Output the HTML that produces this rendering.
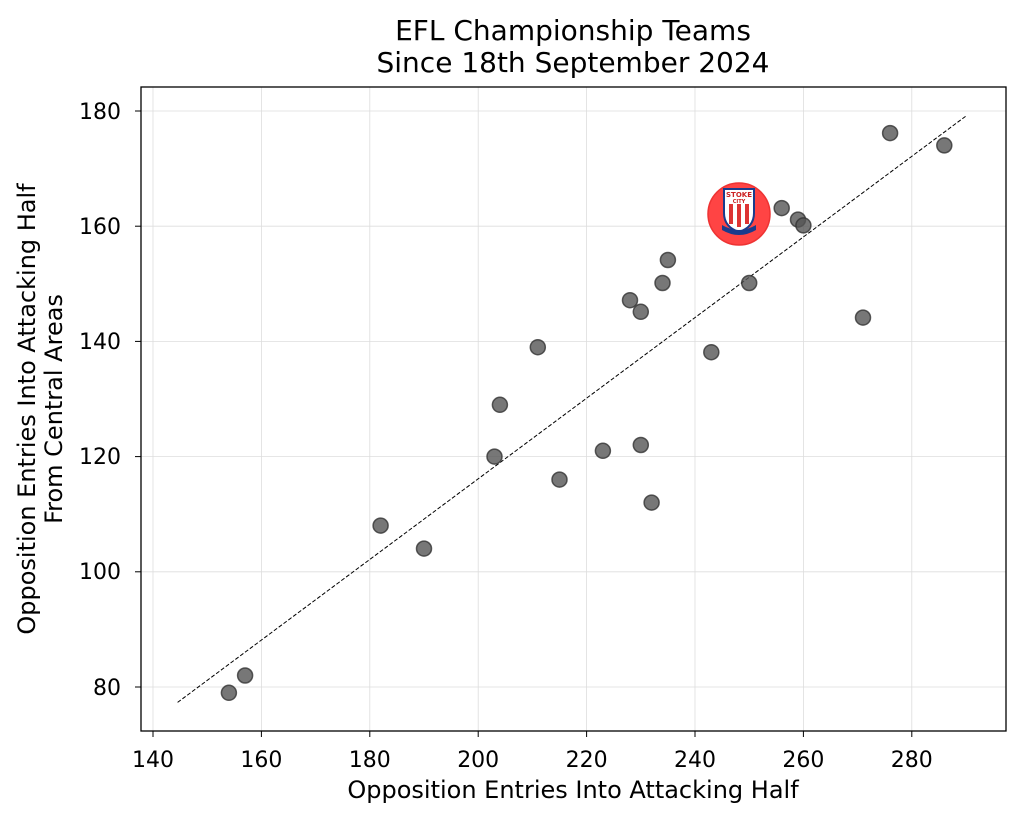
<!DOCTYPE html>
<html><head><meta charset="utf-8"><style>body{margin:0;background:#fff}svg{display:block}</style></head><body>
<svg width="1023" height="822" xmlns="http://www.w3.org/2000/svg" font-family="DejaVu Sans, Liberation Sans, sans-serif">
<rect width="1023" height="822" fill="#fff"/>
<g stroke="#ddd" stroke-width="0.8">
<line x1="153" y1="87" x2="153" y2="731"/><line x1="261.4" y1="87" x2="261.4" y2="731"/><line x1="369.8" y1="87" x2="369.8" y2="731"/><line x1="478.2" y1="87" x2="478.2" y2="731"/><line x1="586.6" y1="87" x2="586.6" y2="731"/><line x1="695" y1="87" x2="695" y2="731"/><line x1="803.4" y1="87" x2="803.4" y2="731"/><line x1="911.8" y1="87" x2="911.8" y2="731"/>
<line x1="141" y1="111" x2="1006" y2="111"/><line x1="141" y1="226.2" x2="1006" y2="226.2"/><line x1="141" y1="341.4" x2="1006" y2="341.4"/><line x1="141" y1="456.6" x2="1006" y2="456.6"/><line x1="141" y1="571.8" x2="1006" y2="571.8"/><line x1="141" y1="687" x2="1006" y2="687"/>
</g>
<line x1="177.6" y1="702.4" x2="966" y2="116" stroke="#000" stroke-width="1" stroke-dasharray="4,2"/>
<g fill="#555" fill-opacity="0.8" stroke="#333" stroke-opacity="0.8" stroke-width="1.5">
<circle cx="228.9" cy="692.8" r="7.5"/><circle cx="245.1" cy="675.5" r="7.5"/><circle cx="380.6" cy="525.6" r="7.5"/><circle cx="424" cy="548.6" r="7.5"/><circle cx="494.5" cy="456.6" r="7.5"/><circle cx="499.9" cy="404.8" r="7.5"/><circle cx="537.8" cy="347.2" r="7.5"/><circle cx="559.5" cy="479.6" r="7.5"/><circle cx="602.9" cy="450.8" r="7.5"/><circle cx="630" cy="300.2" r="7.5"/><circle cx="640.8" cy="311.8" r="7.5"/><circle cx="640.8" cy="445" r="7.5"/><circle cx="651.6" cy="502.6" r="7.5"/><circle cx="662.5" cy="283" r="7.5"/><circle cx="667.9" cy="260" r="7.5"/><circle cx="711.3" cy="352.2" r="7.5"/><circle cx="749.2" cy="283" r="7.5"/><circle cx="781.7" cy="208.1" r="7.5"/><circle cx="798" cy="219.6" r="7.5"/><circle cx="803.4" cy="225.4" r="7.5"/><circle cx="863" cy="317.6" r="7.5"/><circle cx="890.1" cy="133.1" r="7.5"/><circle cx="944.3" cy="145.4" r="7.5"/>
</g>
<circle cx="739" cy="214" r="31" fill="#f44" stroke="#e33" stroke-width="1.5"/>
<path d="M724 189 h30 v24 q0 14 -15 19 q-15 -5 -15 -19z" fill="#fff" stroke="#1a3b8c" stroke-width="2"/>
<g fill="#d33"><rect x="729" y="204" width="4" height="20"/><rect x="737" y="204" width="4" height="23"/><rect x="745" y="204" width="4" height="20"/></g>
<path d="M722 225 q17 10 34 0 l0 5 q-17 10 -34 0z" fill="#1a3b8c"/>
<text x="739" y="197" font-size="7" text-anchor="middle" fill="#c22" font-weight="bold">STOKE</text>
<text x="739" y="203" font-size="5" text-anchor="middle" fill="#c22" font-weight="bold">CITY</text>
<rect x="141" y="87" width="865" height="644" fill="none" stroke="#000" stroke-width="1.3"/>
<g stroke="#000" stroke-width="1">
<line x1="153" y1="731" x2="153" y2="737"/><line x1="261.4" y1="731" x2="261.4" y2="737"/><line x1="369.8" y1="731" x2="369.8" y2="737"/><line x1="478.2" y1="731" x2="478.2" y2="737"/><line x1="586.6" y1="731" x2="586.6" y2="737"/><line x1="695" y1="731" x2="695" y2="737"/><line x1="803.4" y1="731" x2="803.4" y2="737"/><line x1="911.8" y1="731" x2="911.8" y2="737"/>
<line x1="135" y1="111" x2="141" y2="111"/><line x1="135" y1="226.2" x2="141" y2="226.2"/><line x1="135" y1="341.4" x2="141" y2="341.4"/><line x1="135" y1="456.6" x2="141" y2="456.6"/><line x1="135" y1="571.8" x2="141" y2="571.8"/><line x1="135" y1="687" x2="141" y2="687"/>
</g>
<g font-size="22" text-anchor="middle" fill="#000">
<text x="153" y="767">140</text><text x="261.4" y="767">160</text><text x="369.8" y="767">180</text><text x="478.2" y="767">200</text><text x="586.6" y="767">220</text><text x="695" y="767">240</text><text x="803.4" y="767">260</text><text x="911.8" y="767">280</text>
</g>
<g font-size="22" text-anchor="end" fill="#000">
<text x="121" y="119">180</text><text x="121" y="234">160</text><text x="121" y="349">140</text><text x="121" y="464">120</text><text x="121" y="579">100</text><text x="121" y="695">80</text>
</g>
<text x="573" y="798" font-size="24" text-anchor="middle">Opposition Entries Into Attacking Half</text>
<text transform="translate(35,409) rotate(-90)" font-size="24" text-anchor="middle">Opposition Entries Into Attacking Half</text>
<text transform="translate(62,409) rotate(-90)" font-size="24" text-anchor="middle">From Central Areas</text>
<text x="573" y="40" font-size="28" text-anchor="middle">EFL Championship Teams</text>
<text x="573" y="72" font-size="28" text-anchor="middle">Since 18th September 2024</text>
</svg>
</body></html>
